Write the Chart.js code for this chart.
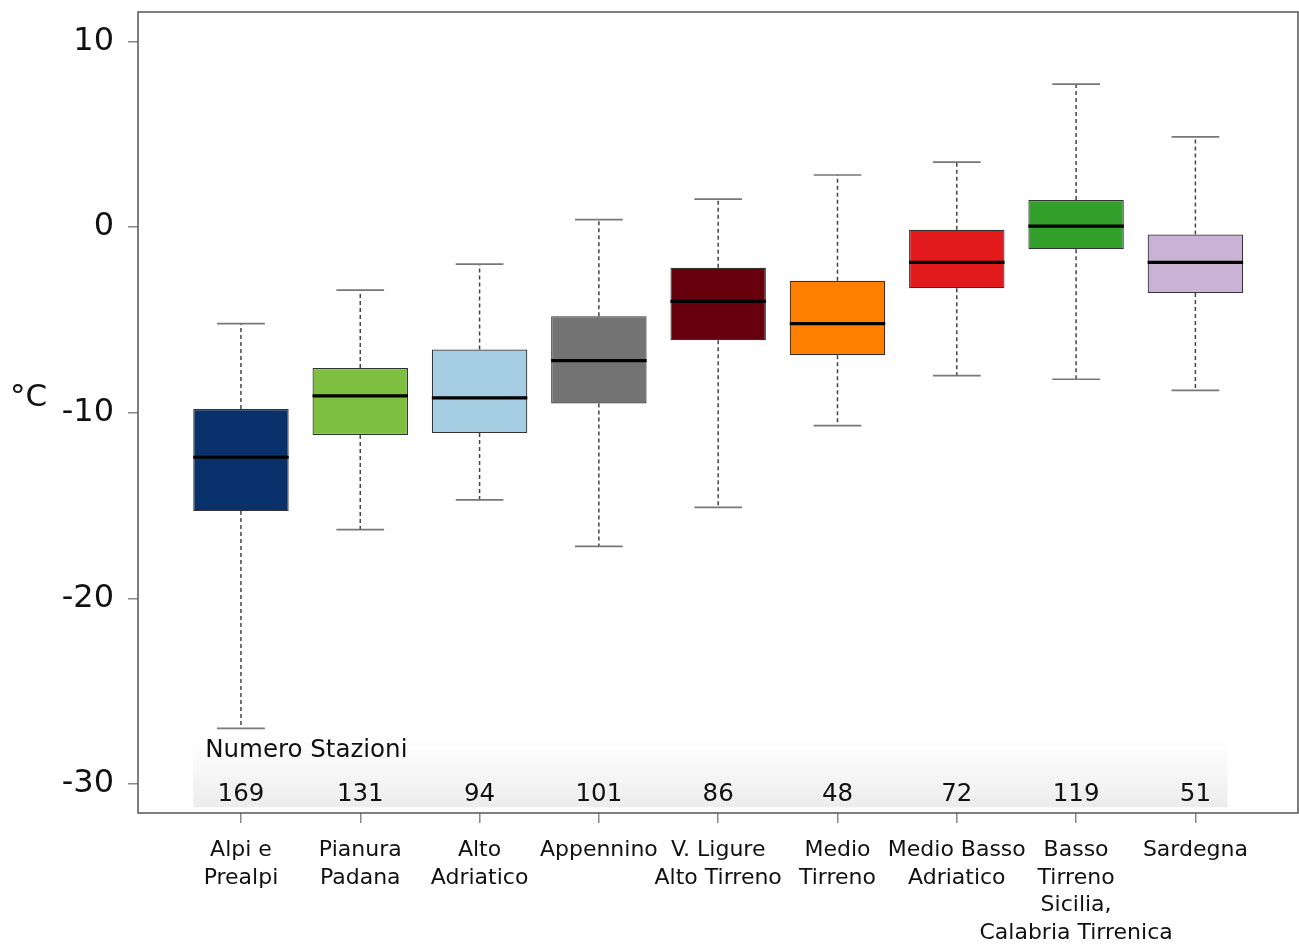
<!DOCTYPE html>
<html>
<head>
<meta charset="utf-8">
<script src="https://cdn.jsdelivr.net/npm/chart.js@4.4.1/dist/chart.umd.min.js"></script>
<style>
    body { margin: 0; background: #fff; }
    canvas { display: block; }
</style>
</head>
<body>
<canvas id="boxChart" width="1299" height="945"></canvas>
<script>
// regions (x labels, multi line)
const regions = [
    ['Alpi e', 'Prealpi'],
    ['Pianura', 'Padana'],
    ['Alto', 'Adriatico'],
    ['Appennino'],
    ['V. Ligure', 'Alto Tirreno'],
    ['Medio', 'Tirreno'],
    ['Medio Basso', 'Adriatico'],
    ['Basso', 'Tirreno', 'Sicilia,', 'Calabria Tirrenica'],
    ['Sardegna']
];
// box plot stats, degrees C
const whiskerLow  = [-27.0, -16.3, -14.7, -17.2, -15.1, -10.7, -8.0, -8.2, -8.8];
const q1          = [-15.3, -11.2, -11.1, -9.5, -6.1, -6.9, -3.3, -1.2, -3.55];
const median      = [-12.4, -9.1, -9.2, -7.2, -4.0, -5.2, -1.9, 0.05, -1.9];
const q3          = [-9.8, -7.6, -6.6, -4.8, -2.2, -2.9, -0.15, 1.45, -0.4];
const whiskerHigh = [-5.2, -3.4, -2.0, 0.4, 1.5, 2.8, 3.5, 7.7, 4.85];
// number of stations
const stations = [169, 131, 94, 101, 86, 48, 72, 119, 51];
const yTicks = [10, 0, -10, -20, -30];

const boxColors = ['#08306b', '#7fbf3f', '#a6cee3', '#737373', '#67000d', '#ff7f00', '#e31a1c', '#33a02c', '#cab2d6'];

const FONT = "'DejaVu Sans', sans-serif";

//draws whiskers, caps, medians, the stations band and the frame
const boxExtras = {
    id: 'boxExtras',
    beforeDatasetsDraw(chart) {
        const ctx = chart.ctx;
        const xs = chart.scales.x;
        const ys = chart.scales.y;

        // "Numero Stazioni" band
        let bx0 = xs.getPixelForValue(0.6), bx1 = xs.getPixelForValue(9.27);
        let by0 = ys.getPixelForValue(-27.45), by1 = ys.getPixelForValue(-31.25);
        let grad = ctx.createLinearGradient(0, by0, 0, by1);
        grad.addColorStop(0, 'rgba(240,240,240,0)');
        grad.addColorStop(1, 'rgba(236,236,236,1)');
        ctx.save();
        ctx.fillStyle = grad;
        ctx.fillRect(bx0, by0, bx1 - bx0, by1 - by0);

        ctx.fillStyle = '#111';
        ctx.font = '24.5px ' + FONT;
        ctx.textBaseline = 'middle';
        ctx.textAlign = 'left';
        ctx.fillText('Numero Stazioni', xs.getPixelForValue(0.7), ys.getPixelForValue(-28.2));
        ctx.textAlign = 'center';
        stations.forEach((n, i) => {
            ctx.fillText(String(n), xs.getPixelForValue(i + 1), ys.getPixelForValue(-30.55));
        });

        // whiskers
        for (let i = 0; i < regions.length; i++) {
            let cx = xs.getPixelForValue(i + 1);
            ctx.strokeStyle = '#444';
            ctx.lineWidth = 1.5;
            ctx.setLineDash([4, 3]);
            ctx.beginPath();
            ctx.moveTo(cx, ys.getPixelForValue(q3[i]));
            ctx.lineTo(cx, ys.getPixelForValue(whiskerHigh[i]));
            ctx.moveTo(cx, ys.getPixelForValue(q1[i]));
            ctx.lineTo(cx, ys.getPixelForValue(whiskerLow[i]));
            ctx.stroke();
            ctx.setLineDash([]);
            // caps
            let hw = xs.getPixelForValue(1.2) - xs.getPixelForValue(1);
            ctx.strokeStyle = '#777';
            ctx.lineWidth = 1.7;
            ctx.beginPath();
            ctx.moveTo(cx - hw, ys.getPixelForValue(whiskerHigh[i]));
            ctx.lineTo(cx + hw, ys.getPixelForValue(whiskerHigh[i]));
            ctx.moveTo(cx - hw, ys.getPixelForValue(whiskerLow[i]));
            ctx.lineTo(cx + hw, ys.getPixelForValue(whiskerLow[i]));
            ctx.stroke();
        }
        ctx.restore();
    },
    afterDatasetsDraw(chart) {
        const ctx = chart.ctx;
        const xs = chart.scales.x;
        const ys = chart.scales.y;
        ctx.save();
        // medians
        ctx.strokeStyle = '#000';
        ctx.lineWidth = 3.2;
        let hw = xs.getPixelForValue(1.4) - xs.getPixelForValue(1);
        median.forEach((m, i) => {
            let cx = xs.getPixelForValue(i + 1);
            let y = ys.getPixelForValue(m);
            ctx.beginPath();
            ctx.moveTo(cx - hw, y);
            ctx.lineTo(cx + hw, y);
            ctx.stroke();
        });
        // frame
        const a = chart.chartArea;
        ctx.strokeStyle = '#555';
        ctx.lineWidth = 1.5;
        ctx.strokeRect(a.left, a.top, a.right - a.left, a.bottom - a.top);
        // y title
        ctx.fillStyle = '#111';
        ctx.font = '31px ' + FONT;
        ctx.textAlign = 'left';
        ctx.textBaseline = 'middle';
        ctx.fillText('°C', 10, ys.getPixelForValue(-9.2));
        ctx.restore();
    }
};

const boxData = q1.map((v, i) => ({ x: i + 1, y: [v, q3[i]] }));

new Chart(document.getElementById('boxChart'), {
    type: 'bar',
    data: {
        datasets: [{
            data: boxData,
            backgroundColor: boxColors,
            borderColor: '#333',
            borderWidth: 1.2,
            borderSkipped: false,
            barPercentage: 0.8,
            categoryPercentage: 1.0
        }]
    },
    options: {
        responsive: false,
        animation: false,
        layout: { padding: { top: 12, right: 1, left: 0, bottom: 0 } },
        plugins: {
            legend: { display: false },
            tooltip: { enabled: false }
        },
        scales: {
            x: {
                type: 'linear',
                offset: false,
                min: 0.137,
                max: 9.86,
                afterBuildTicks: s => { s.ticks = regions.map((r, i) => ({ value: i + 1 })); },
                afterFit: s => { s.height = 132; s.paddingLeft = 0; s.paddingRight = 0; },
                grid: { offset: false, drawOnChartArea: false, tickLength: 10, color: '#888', lineWidth: 1.5 },
                border: { display: false },
                ticks: {
                    autoSkip: false,
                    maxRotation: 0,
                    padding: 14,
                    color: '#111',
                    font: { family: FONT, size: 22, lineHeight: 1.25 },
                    callback: v => regions[v - 1] || ''
                }
            },
            y: {
                min: -31.56,
                max: 11.58,
                afterBuildTicks: s => { s.ticks = yTicks.map(v => ({ value: v })); },
                afterFit: s => { s.width = 138; s.paddingTop = 0; s.paddingBottom = 0; },
                grid: { drawOnChartArea: false, tickLength: 10, color: '#888', lineWidth: 1.5 },
                border: { display: false },
                ticks: {
                    padding: 14,
                    color: '#111',
                    font: { family: FONT, size: 32 }
                }
            }
        }
    },
    plugins: [boxExtras]
});
</script>
</body>
</html>
